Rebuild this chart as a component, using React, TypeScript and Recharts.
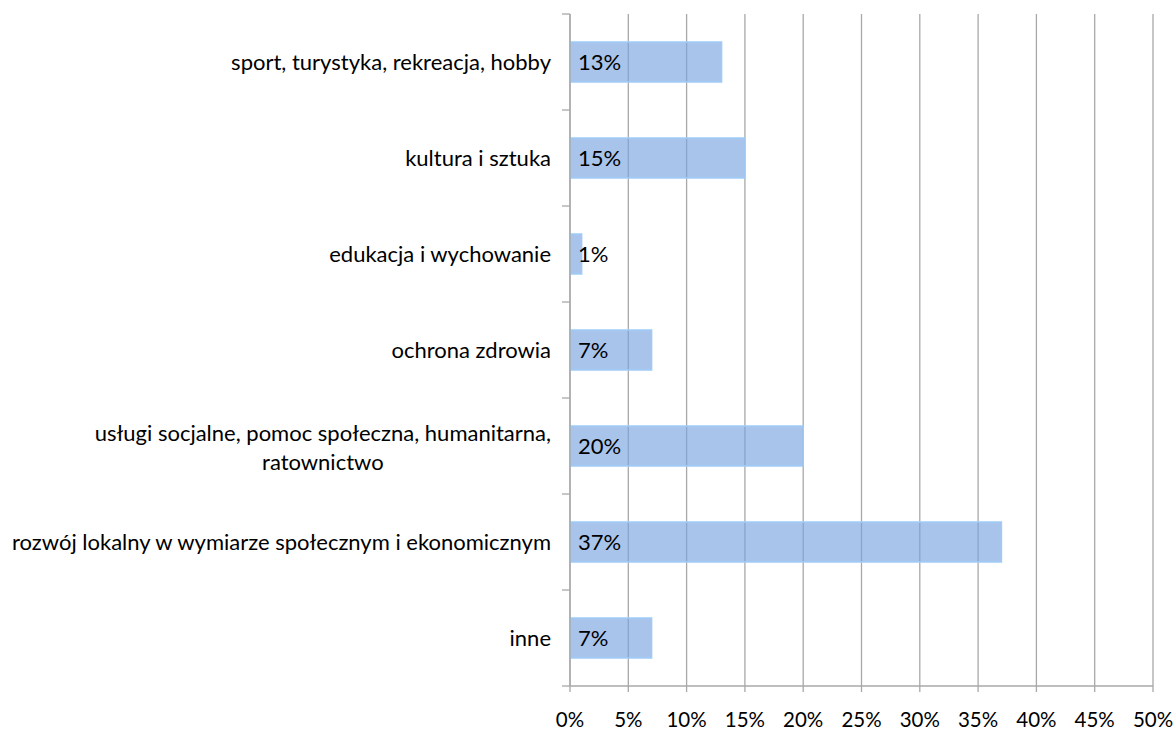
import { BarChart, Bar, XAxis, YAxis, CartesianGrid, LabelList } from 'recharts';

const categories = [
  'sport, turystyka, rekreacja, hobby',
  'kultura i sztuka',
  'edukacja i wychowanie',
  'ochrona zdrowia',
  'usługi socjalne, pomoc społeczna, humanitarna,\nratownictwo',
  'rozwój lokalny w wymiarze społecznym i ekonomicznym',
  'inne',
];
const shares = [13, 15, 1, 7, 20, 37, 7];
const xTicks = [0, 5, 10, 15, 20, 25, 30, 35, 40, 45, 50];

const data = categories.map((name, i) => ({ name, share: shares[i] }));

const FONT = 'Lato, "Liberation Sans", sans-serif';
const FONT_SIZE = 22;
const GRID = '#A8A8A8';

let measureCtx: CanvasRenderingContext2D | null = null;
function textWidth(s: string) {
  if (!measureCtx) {
    measureCtx = document.createElement('canvas').getContext('2d');
    if (measureCtx) measureCtx.font = `${FONT_SIZE}px ${FONT}`;
  }
  return measureCtx ? measureCtx.measureText(s).width : s.length * 10;
}

// category label plus the Excel-style tick marks between categories
function CategoryTick(props: any) {
  const { x, y, payload, index } = props;
  const half = payload?.offset || 48;
  const axisX = x + 19;
  const lines = String(payload.value).split('\n');
  const last = index === categories.length - 1;
  const widest = Math.max(...lines.map(textWidth));
  const lineGap = 29;
  return (
    <g>
      <line x1={axisX - 8} x2={axisX} y1={y - half} y2={y - half} stroke={GRID} strokeWidth={1.3} />
      {last && <line x1={axisX - 8} x2={axisX} y1={y + half} y2={y + half} stroke={GRID} strokeWidth={1.3} />}
      {lines.length === 1 ? (
        <text x={x} y={y} dy="0.35em" textAnchor="end" fill="#000" fontSize={FONT_SIZE} fontFamily={FONT}>
          {lines[0]}
        </text>
      ) : (
        <text textAnchor="middle" fill="#000" fontSize={FONT_SIZE} fontFamily={FONT}>
          {lines.map((l, i) => (
            <tspan key={i} x={x - widest / 2} y={y + 2 - ((lines.length - 1) * lineGap) / 2 + i * lineGap} dy="0.35em">
              {l}
            </tspan>
          ))}
        </text>
      )}
    </g>
  );
}

export default function App() {
  return (
    <div style={{ position: 'absolute', left: 0, top: 0, width: 1173, height: 734, background: '#fff' }}>
      <BarChart
        width={1173}
        height={734}
        data={data}
        layout="vertical"
        margin={{ top: 14, right: 20, bottom: 0, left: 0 }}
      >
        <CartesianGrid horizontal={false} stroke={GRID} strokeWidth={1.3} />
        <XAxis
          type="number"
          domain={[0, 50]}
          ticks={xTicks}
          tickFormatter={(v) => `${v}%`}
          height={48}
          tickSize={6}
          tickMargin={20}
          axisLine={{ stroke: GRID, strokeWidth: 1.3 }}
          tickLine={{ stroke: GRID, strokeWidth: 1.3 }}
          tick={{ fill: '#000', fontSize: 20.5, fontFamily: FONT }}
          interval={0}
        />
        <YAxis
          type="category"
          dataKey="name"
          width={570}
          tickSize={8}
          tickMargin={11}
          tickLine={false}
          axisLine={{ stroke: GRID, strokeWidth: 1.3 }}
          tick={<CategoryTick />}
          interval={0}
        />
        <Bar
          dataKey="share"
          barSize={40}
          fill="#79A3E0"
          fillOpacity={0.64}
          stroke="#9FCBF8"
          strokeWidth={1.5}
          isAnimationActive={false}
        >
          <LabelList
            dataKey="share"
            position="insideLeft"
            offset={8}
            formatter={(v: any) => `${v}%`}
            fill="#000"
            fontSize={FONT_SIZE}
            fontFamily={FONT}
          />
        </Bar>
      </BarChart>
    </div>
  );
}
